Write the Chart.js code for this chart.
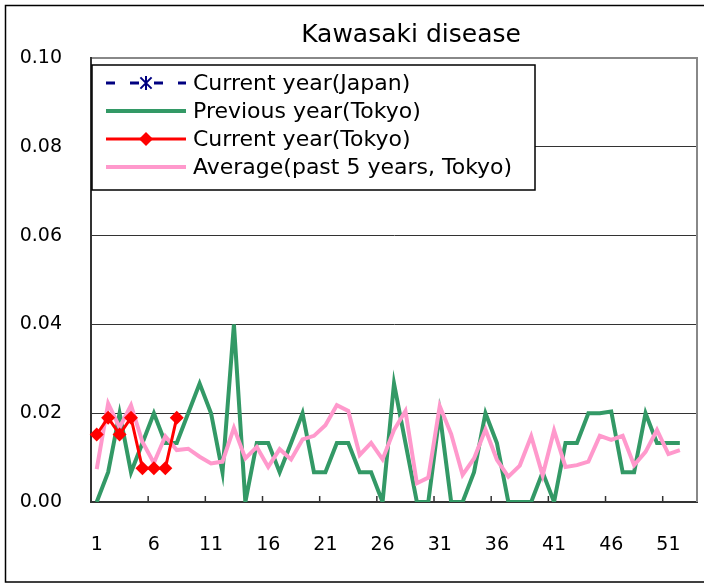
<!DOCTYPE html>
<html><head><meta charset="utf-8">
<script src="https://cdn.jsdelivr.net/npm/chart.js@4.4.1/dist/chart.umd.min.js"></script>
<style>html,body{margin:0;padding:0;background:#fff;}#wrap{position:relative;width:704px;height:585px;}</style>
</head><body><div id="wrap"><canvas id="c" width="704" height="585"></canvas></div>
<script>
const chartTitle = 'Kawasaki disease';
const weeks = Array.from({length:53}, (_, i) => String(i + 1));
const xTickLabels = ['1','6','11','16','21','26','31','36','41','46','51'];
const yTicks = [0, 0.02, 0.04, 0.06, 0.08, 0.10];

const seriesNames = ['Current year(Japan)', 'Previous year(Tokyo)', 'Current year(Tokyo)', 'Average(past 5 years, Tokyo)'];

const currentJapan = [];
const previousTokyo = [0, 0.0067, 0.02, 0.0067, 0.0133, 0.02, 0.0133, 0.0133, 0.02, 0.0267,
  0.02, 0.0067, 0.04, 0, 0.0133, 0.0133, 0.0067, 0.0133, 0.02, 0.0067,
  0.0067, 0.0133, 0.0133, 0.0067, 0.0067, 0, 0.0267, 0.0133, 0, 0,
  0.02, 0, 0, 0.0067, 0.02, 0.0133, 0, 0, 0, 0.0067,
  0, 0.0133, 0.0133, 0.02, 0.02, 0.0204, 0.0067, 0.0067, 0.02, 0.0133,
  0.0133, 0.0133];
const currentTokyo = [0.0152, 0.019, 0.0152, 0.019, 0.0076, 0.0076, 0.0076, 0.019];
const averageTokyo = [0.0074, 0.0222, 0.0168, 0.0218, 0.0135, 0.0088, 0.0148, 0.0117, 0.012, 0.0102,
  0.0087, 0.0091, 0.0167, 0.0098, 0.0124, 0.0079, 0.0119, 0.0096, 0.0141, 0.0149,
  0.0173, 0.0218, 0.0205, 0.0106, 0.0133, 0.0096, 0.0162, 0.0205, 0.0042, 0.0055,
  0.0216, 0.0153, 0.0061, 0.0098, 0.0163, 0.0095, 0.0057, 0.0082, 0.0148, 0.006,
  0.0161, 0.0079, 0.0083, 0.0091, 0.0149, 0.014, 0.0149, 0.0083, 0.0113, 0.0162,
  0.0108, 0.0117];

const FONT = "'DejaVu Sans', sans-serif";

const framePlugin = {
  id: 'frame',
  afterDraw(chart) {
    const ctx = chart.ctx, a = chart.chartArea;
    ctx.save();
    ctx.strokeStyle = '#888'; ctx.lineWidth = 2;
    ctx.beginPath(); ctx.moveTo(a.right, a.top - 1); ctx.lineTo(a.right, a.bottom); ctx.stroke();
    const xs = chart.scales.x;
    ctx.strokeStyle = '#333'; ctx.lineWidth = 1.5;
    for (let k = 5; k < weeks.length; k += 5) {
      const px = (xs.getPixelForValue(k - 1) + xs.getPixelForValue(k)) / 2;
      ctx.beginPath(); ctx.moveTo(px, a.bottom); ctx.lineTo(px, a.bottom - 6); ctx.stroke();
    }
    ctx.strokeStyle = '#000'; ctx.lineWidth = 1.5;
    ctx.strokeRect(5.5, 5.5, 702, 576.5);
    ctx.fillStyle = '#000'; ctx.font = '25px ' + FONT;
    ctx.textAlign = 'center'; ctx.textBaseline = 'alphabetic';
    ctx.fillText(chartTitle, 411, 42);
    ctx.restore();
  }
};

function drawDiamond(ctx, x, y, r, color) {
  ctx.fillStyle = color;
  ctx.beginPath(); ctx.moveTo(x, y - r); ctx.lineTo(x + r, y); ctx.lineTo(x, y + r); ctx.lineTo(x - r, y); ctx.closePath(); ctx.fill();
}
function drawStar(ctx, x, y, r, color) {
  ctx.strokeStyle = color; ctx.lineWidth = 2;
  ctx.beginPath();
  ctx.moveTo(x, y - r); ctx.lineTo(x, y + r);
  const d = r * 0.8;
  ctx.moveTo(x - d, y - d); ctx.lineTo(x + d, y + d);
  ctx.moveTo(x + d, y - d); ctx.lineTo(x - d, y + d);
  ctx.stroke();
}

const legendPlugin = {
  id: 'boxLegend',
  afterDatasetsDraw(chart) {
    const ctx = chart.ctx, a = chart.chartArea;
    const x0 = a.left + 1, y0 = a.top + 7, w = 443, h = 125;
    ctx.save();
    ctx.fillStyle = '#fff'; ctx.fillRect(x0, y0, w, h);
    ctx.strokeStyle = '#000'; ctx.lineWidth = 1.5; ctx.strokeRect(x0, y0, w, h);
    chart.data.datasets.forEach((ds, i) => {
      const cy = y0 + 18 + i * 28;
      ctx.setLineDash(ds.borderDash || []);
      ctx.strokeStyle = ds.borderColor; ctx.lineWidth = ds.borderWidth;
      ctx.beginPath(); ctx.moveTo(x0 + 14, cy); ctx.lineTo(x0 + 94, cy); ctx.stroke();
      ctx.setLineDash([]);
      if (ds.pointStyle === 'star') drawStar(ctx, x0 + 54, cy, 7, ds.borderColor);
      if (ds.pointStyle === 'rectRot') drawDiamond(ctx, x0 + 54, cy, 7, ds.borderColor);
      ctx.fillStyle = '#000'; ctx.font = '22px ' + FONT;
      ctx.textAlign = 'left'; ctx.textBaseline = 'middle';
      ctx.fillText(ds.label, x0 + 101, cy + 1);
    });
    ctx.restore();
  }
};

new Chart(document.getElementById('c'), {
  type: 'line',
  data: {
    labels: weeks,
    datasets: [
      { label: seriesNames[0], data: currentJapan, borderColor: '#000080', backgroundColor: '#000080',
        borderWidth: 3, borderDash: [9, 15], pointStyle: 'star', pointRadius: 7, order: 0 },
      { label: seriesNames[1], data: previousTokyo, borderColor: '#339966', backgroundColor: '#339966',
        borderWidth: 4, pointRadius: 0, tension: 0, order: 3 },
      { label: seriesNames[2], data: currentTokyo, borderColor: '#ff0000', backgroundColor: '#ff0000',
        borderWidth: 3, pointStyle: 'rectRot', pointRadius: 7, pointBorderWidth: 0, tension: 0, order: 1 },
      { label: seriesNames[3], data: averageTokyo, borderColor: '#ff99cc', backgroundColor: '#ff99cc',
        borderWidth: 4, pointRadius: 0, tension: 0, order: 2 }
    ]
  },
  options: {
    responsive: false, animation: false, devicePixelRatio: 1,
    layout: { padding: { left: 0, top: 58, right: 6, bottom: 0 } },
    plugins: { legend: { display: false }, title: { display: false }, tooltip: { enabled: false } },
    scales: {
      x: {
        type: 'category', offset: true,
        grid: { display: false, drawTicks: false },
        border: { display: true, color: '#333', width: 2 },
        ticks: {
          autoSkip: false, maxRotation: 0, minRotation: 0, padding: 32, color: '#000',
          font: { family: FONT, size: 19 },
          callback: (v, i) => xTickLabels.includes(weeks[i]) ? weeks[i] : ''
        },
        afterFit: s => { s.height = 83; s.paddingLeft = 0; s.paddingRight = 0; }
      },
      y: {
        min: yTicks[0], max: yTicks[yTicks.length - 1],
        afterBuildTicks: s => { s.ticks = yTicks.map(v => ({ value: v })); },
        grid: {
          drawTicks: false,
          color: c => (c.tick && Math.abs(c.tick.value - 0.1) < 1e-9) ? '#888' : '#333',
          lineWidth: c => (c.tick && Math.abs(c.tick.value - 0.1) < 1e-9) ? 2 : 1
        },
        border: { display: true, color: '#333', width: 2 },
        ticks: { padding: 29, color: '#000', font: { family: FONT, size: 19 }, callback: v => Number(v).toFixed(2) },
        afterFit: s => { s.width = 91; }
      }
    }
  },
  plugins: [legendPlugin, framePlugin]
});
</script></body></html>
